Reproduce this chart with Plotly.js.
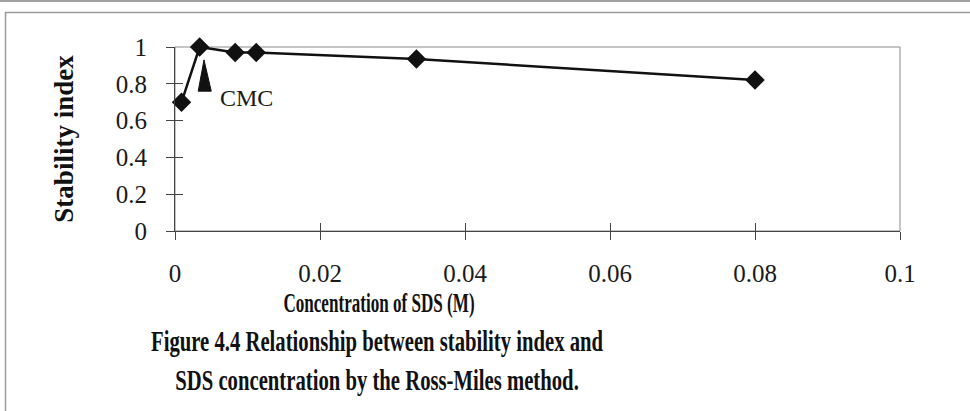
<!DOCTYPE html>
<html>
<head>
<meta charset="utf-8">
<script src="https://cdn.plot.ly/plotly-3.0.1.min.js"></script>
<style>
  html, body { margin: 0; padding: 0; background: #fff; }
  #chart { width: 970px; height: 411px; }
</style>
</head>
<body>
<div id="chart"></div>
<script>
// ---- data ----
const concentrationM = [0.0009, 0.0034, 0.0083, 0.0112, 0.0333, 0.08];
const stabilityIndex = [0.70, 1.00, 0.97, 0.97, 0.935, 0.82];
const xTickVals = [0, 0.02, 0.04, 0.06, 0.08, 0.1];
const xTickText = ['0', '0.02', '0.04', '0.06', '0.08', '0.1'];
const yTickVals = [0, 0.2, 0.4, 0.6, 0.8, 1];
const yTickText = ['0', '0.2', '0.4', '0.6', '0.8', '1'];
const cmcLabel = 'CMC';
const cmcArrowX = 0.0040;   // tip of the CMC marker arrow
const cmcArrowTipY = 0.93;
const cmcArrowBaseY = 0.76;
const cmcLabelX = 0.0098;
const cmcLabelY = 0.725;
const xTitle = 'Concentration of SDS (M)';
const yTitle = 'Stability index';
const caption = 'Figure 4.4 Relationship between stability index and<br>SDS concentration by the Ross-Miles method.';

// ---- layout geometry (pixels) ----
const W = 970, H = 411;
const L = 175, R = 70, T = 47, B = 180;
const PW = W - L - R, PH = H - T - B;
const px = v => (v - L) / PW;            // page px -> paper x
const py = v => (T + PH - v) / PH;        // page px -> paper y
const textBlockCenter = 377;              // caption & x title are centred here

const serif = 'Liberation Serif, Times New Roman, serif';
const ink = '#1a1a1a';

const main = {
  x: concentrationM, y: stabilityIndex,
  type: 'scatter', mode: 'lines+markers',
  line: { color: '#111', width: 2.5 },
  marker: { symbol: 'diamond', size: 15, color: '#111' },
  cliponaxis: false,
  hoverinfo: 'x+y', showlegend: false
};
const tickTwin = {
  x: concentrationM, y: stabilityIndex,
  xaxis: 'x2', yaxis: 'y2',
  type: 'scatter', mode: 'markers',
  marker: { size: 1, opacity: 0 },
  hoverinfo: 'skip', showlegend: false
};

const halfBase = 0.0008;
const layout = {
  width: W, height: H,
  margin: { l: L, r: R, t: T, b: B, pad: 0 },
  paper_bgcolor: '#fff', plot_bgcolor: '#fff',
  font: { family: serif, color: ink, size: 25 },
  showlegend: false,
  title: {
    text: caption,
    font: { family: serif, size: 30, color: '#111', weight: 'bold' },
    xref: 'container', yref: 'container',
    x: textBlockCenter / W, xanchor: 'center',
    y: 1 - 351 / H, yanchor: 'middle'
  },
  xaxis: {
    range: [0, 0.1], tickvals: xTickVals, ticktext: xTickText,
    ticks: 'outside', ticklen: 8, tickwidth: 1, tickcolor: '#444',
    showline: true, linecolor: '#444', linewidth: 1,
    showgrid: false, zeroline: false,
    ticklabelstandoff: 12,
    tickfont: { family: serif, size: 25, color: ink },
    title: { text: xTitle, standoff: 2, font: { family: serif, size: 28, color: '#111', weight: 'bold' } }
  },
  yaxis: {
    range: [0, 1], tickvals: yTickVals, ticktext: yTickText,
    ticks: 'outside', ticklen: 8, tickwidth: 1, tickcolor: '#444',
    showline: true, linecolor: '#444', linewidth: 1,
    showgrid: false, zeroline: false,
    ticklabelstandoff: 14,
    tickfont: { family: serif, size: 25, color: ink },
    title: { text: yTitle, standoff: 34, font: { family: serif, size: 27, color: '#111', weight: 'bold' } }
  },
  xaxis2: {
    overlaying: 'x', matches: 'x', anchor: 'y2', range: [0, 0.1],
    tickvals: xTickVals, ticks: 'inside', ticklen: 8, tickwidth: 1, tickcolor: '#444',
    showticklabels: false, showline: false, showgrid: false, zeroline: false
  },
  yaxis2: {
    overlaying: 'y', matches: 'y', anchor: 'x2', range: [0, 1],
    tickvals: yTickVals, ticks: 'inside', ticklen: 8, tickwidth: 1, tickcolor: '#444',
    showticklabels: false, showline: false, showgrid: false, zeroline: false
  },
  annotations: [
    { x: cmcLabelX, y: cmcLabelY, xref: 'x', yref: 'y', text: cmcLabel,
      showarrow: false, xanchor: 'center', yanchor: 'middle',
      font: { family: serif, size: 24, color: ink } }
  ],
  shapes: [
    // plot frame
    { type: 'rect', xref: 'paper', yref: 'paper', x0: 0, y0: 0, x1: 1, y1: 1,
      line: { color: '#8a8a8a', width: 1 }, layer: 'below' },
    // CMC arrow (filled narrow triangle)
    { type: 'path', xref: 'x', yref: 'y',
      path: `M ${cmcArrowX - halfBase} ${cmcArrowBaseY} L ${cmcArrowX} ${cmcArrowTipY} L ${cmcArrowX + halfBase + 0.0002} ${cmcArrowBaseY} Z`,
      fillcolor: '#111', line: { color: '#111', width: 1 } },
    // page frame lines
    { type: 'line', xref: 'paper', yref: 'paper', x0: px(0), x1: px(W), y0: py(1), y1: py(1),
      line: { color: '#a0a0a0', width: 2 } },
    { type: 'line', xref: 'paper', yref: 'paper', x0: px(5), x1: px(W), y0: py(12.5), y1: py(12.5),
      line: { color: '#9a9a9a', width: 1.5 } },
    { type: 'line', xref: 'paper', yref: 'paper', x0: px(5.5), x1: px(5.5), y0: py(12), y1: py(H),
      line: { color: '#9a9a9a', width: 1.5 } }
  ]
};

// Narrow the bold caption / axis-title lettering (the source uses a condensed face)
function condense(el, sx, targetCx) {
  if (!el) return;
  const bb = el.getBBox();
  const cx = bb.x + bb.width / 2, cy = bb.y + bb.height / 2;
  const tx = (targetCx === undefined) ? cx : targetCx;
  const prev = el.getAttribute('transform') || '';
  el.setAttribute('transform',
    `translate(${tx},${cy}) scale(${sx},1) translate(${-cx},${-cy}) ` + prev);
}

Plotly.newPlot('chart', [main, tickTwin], layout, { displayModeBar: false, staticPlot: true })
  .then(gd => {
    condense(gd.querySelector('.gtitle'), 0.69);
    condense(gd.querySelector('.xtitle'), 0.61, textBlockCenter + 2);
  });
</script>
</body>
</html>
